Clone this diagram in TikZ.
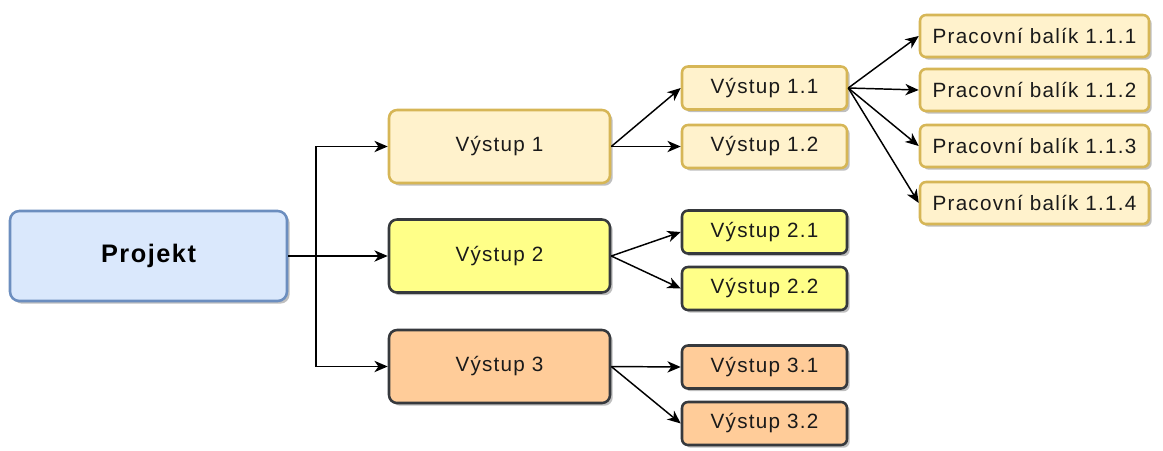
\documentclass[tikz,border=0pt]{standalone}
\usepackage{fontspec}
\setmainfont{Liberation Sans}
\usetikzlibrary{arrows.meta,shadows}
\definecolor{blueFill}{HTML}{DAE8FC}
\definecolor{blueLine}{HTML}{6C8EBF}
\definecolor{creamFill}{HTML}{FFF2CC}
\definecolor{creamLine}{HTML}{D6B656}
\definecolor{yellowFill}{HTML}{FFFF88}
\definecolor{orangeFill}{HTML}{FFCC99}
\definecolor{darkLine}{HTML}{36393D}
\definecolor{textGrey}{HTML}{1A1A1A}
\newfontfamily\spacedfont[LetterSpace=6]{Liberation Sans}
\begin{document}
\begin{tikzpicture}[x=0.75pt,y=-0.75pt,
  box/.style={rectangle, line width=1.9pt, inner sep=0pt, text=textGrey,
    font=\spacedfont\fontsize{15.5}{18}\selectfont,
    drop shadow={shadow xshift=2pt, shadow yshift=-2pt, opacity=0.25, fill=black}},
  root/.style={box, fill=blueFill, draw=blueLine, rounded corners=7pt,
    minimum width=207.75pt, minimum height=67.5pt,
    text=black, font=\spacedfont\fontsize{19}{22}\selectfont\bfseries},
  big/.style={box, rounded corners=6pt, minimum width=165.75pt, minimum height=54.75pt},
  small/.style={box, rounded corners=4.5pt, minimum width=123.75pt, minimum height=32.25pt},
  pkg/.style={box, rounded corners=4.5pt, minimum width=171.75pt, minimum height=31.5pt},
  cream/.style={fill=creamFill, draw=creamLine},
  yellowbox/.style={fill=yellowFill, draw=darkLine},
  orangebox/.style={fill=orangeFill, draw=darkLine},
  link/.style={draw=black, line width=1.1pt, -{Stealth[length=10pt,width=8.5pt,inset=3pt]}}
]
\useasboundingbox (0,0) rectangle (1163,450);

% root
\node[root] (P) at (148.5,256) {Projekt};

% first level
\node[big, cream]     (V1) at (499.5,146.5) {Výstup 1};
\node[big, yellowbox] (V2) at (499.5,256)   {Výstup 2};
\node[big, orangebox] (V3) at (499.5,366.5) {Výstup 3};

% second level
\node[small, cream]     (V11) at (764.5,88)  {Výstup 1.1};
\node[small, cream]     (V12) at (764.5,146.5) {Výstup 1.2};
\node[small, yellowbox] (V21) at (764.5,232) {Výstup 2.1};
\node[small, yellowbox] (V22) at (764.5,288.5) {Výstup 2.2};
\node[small, orangebox] (V31) at (764.5,367) {Výstup 3.1};
\node[small, orangebox] (V32) at (764.5,423.5) {Výstup 3.2};

% work packages
\node[pkg, cream] (W1) at (1034.5,36)  {Pracovní balík 1.1.1};
\node[pkg, cream] (W2) at (1034.5,90)  {Pracovní balík 1.1.2};
\node[pkg, cream] (W3) at (1034.5,146) {Pracovní balík 1.1.3};
\node[pkg, cream] (W4) at (1034.5,203) {Pracovní balík 1.1.4};

% orthogonal fork from the project
\coordinate (fork) at (316,256);
\draw[link] (P.east) -- (V2.west);
\draw[link] (P.east) -- (fork) |- (V1.west);
\draw[link] (P.east) -- (fork) |- (V3.west);

% straight connectors
\draw[link] (V1.east) -- (V11.west);
\draw[link] (V1.east) -- (V12.west);
\draw[link] (V2.east) -- (V21.west);
\draw[link] (V2.east) -- (V22.west);
\draw[link] (V3.east) -- (V31.west);
\draw[link] (V3.east) -- (V32.west);
\draw[link] (V11.east) -- (W1.west);
\draw[link] (V11.east) -- (W2.west);
\draw[link] (V11.east) -- (W3.west);
\draw[link] (V11.east) -- (W4.west);
\end{tikzpicture}
\end{document}
